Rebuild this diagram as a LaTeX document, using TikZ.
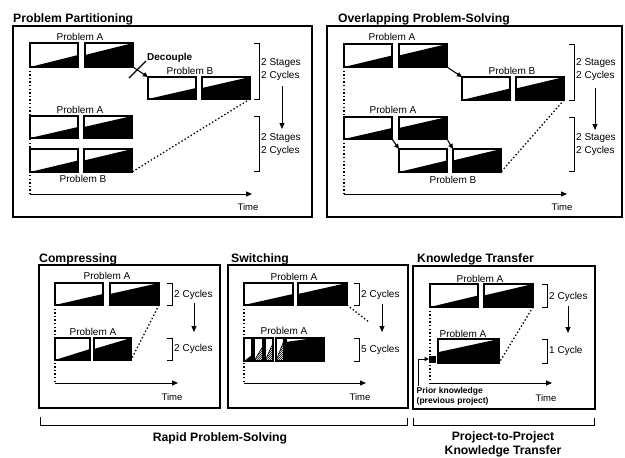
\documentclass[tikz,border=0pt]{standalone}
\usepackage{fontspec}
\setmainfont{Liberation Sans}
\usetikzlibrary{calc,arrows.meta}
\begin{document}
\begin{tikzpicture}[x=1pt,y=-1pt,
  frame/.style={draw, line width=1.2pt},
  ttl/.style={font=\fontsize{12.2}{14}\selectfont\bfseries, anchor=base west, inner sep=0pt},
  lbl/.style={font=\fontsize{10}{12}\selectfont, inner sep=0pt},
  cyc/.style={font=\fontsize{10}{13}\selectfont, align=left, anchor=west, inner sep=0pt},
  tm/.style={font=\fontsize{9.5}{11}\selectfont, inner sep=0pt},
  stage/.style={draw, line width=1.2pt, inner sep=0pt, outer sep=0pt, anchor=north west, fill=white},
  lowtri/.style={stage, path picture={\fill[black] (path picture bounding box.south west) -- (path picture bounding box.south east) -- ($(path picture bounding box.south east)!#1!(path picture bounding box.north east)$) -- cycle;}},
  hightri/.style={stage, path picture={\fill[black] (path picture bounding box.south west) -- (path picture bounding box.south east) -- (path picture bounding box.north east) -- ($(path picture bounding box.south west)!#1!(path picture bounding box.north west)$) -- cycle;}},
  hatchtri/.style={stage, path picture={
     \begin{scope}
     \clip (path picture bounding box.south west) -- (path picture bounding box.south east) -- ($(path picture bounding box.south east)!#1!(path picture bounding box.north east)$) -- cycle;
     \foreach \k in {-30,-28,...,12} {\draw[black, line width=0.45pt] ($(path picture bounding box.south west)+(\k pt,0pt)$) -- ++(32pt,32pt);}
     \end{scope}
     \draw[black, line width=0.6pt] (path picture bounding box.south west) -- ($(path picture bounding box.south east)!#1!(path picture bounding box.north east)$);}},
  sliver/.style={stage, path picture={\fill[black] (path picture bounding box.south west) -- (path picture bounding box.south east) -- (path picture bounding box.north east) -- ($(path picture bounding box.north west)!0.75!(path picture bounding box.north east)$) -- ($(path picture bounding box.north west)!0.17!(path picture bounding box.south west)$) -- cycle;}},
  dots/.style={line width=1.3pt, dash pattern=on 1.4pt off 2.2pt},
  tip/.style={-{Triangle[length=6pt,width=5pt]}},
  axis/.style={line width=1pt, tip},
  down/.style={line width=1pt, tip},
  link/.style={line width=1.1pt, -{Triangle[length=5pt,width=4.5pt]}},
  brk/.style={line width=0.6pt},
  bigbrk/.style={line width=1pt},
  pk/.style={font=\fontsize{8.5}{10}\selectfont\bfseries, align=left, anchor=north west, inner sep=0pt},
  big/.style={font=\fontsize{12.2}{13.5}\selectfont\bfseries, align=center, inner sep=0pt},
]
\fill[white] (0,0) rectangle (625,458);
\useasboundingbox (0,0) rectangle (625,458);

% ================= Problem Partitioning =================
\node[ttl] (ppTitle) at (13,22) {Problem Partitioning};
\draw[frame] (13,26) rectangle (312,217);
\node[lowtri=0.5, minimum width=48pt, minimum height=24pt] (ppA1) at (30,43) {};
\node[hightri=0.5, minimum width=48pt, minimum height=24pt] (ppA2) at (85,43) {};
\node[lbl] (ppLA) at (80,37) {Problem A};
\node[lowtri=0.5, minimum width=48pt, minimum height=22pt] (ppB1) at (148,77) {};
\node[hightri=0.5, minimum width=48pt, minimum height=22pt] (ppB2) at (202,77) {};
\node[lbl] (ppLB) at (190,71) {Problem B};
\draw[link] (ppA2.south east) -- (ppB1.north west);
\draw[line width=1.1pt] (129,78) -- (146,61);
\node[font=\fontsize{10}{12}\selectfont\bfseries, anchor=west, inner sep=0pt] (ppDec) at (147,58) {Decouple};
\draw[brk] (254,43) -- (259,43) -- (259,99) -- (254,99);
\node[cyc] (ppS1) at (261,69.5) {2 Stages\\2 Cycles};
\draw[down] (282,86) -- (282,129);
\draw[brk] (254,116) -- (259,116) -- (259,171) -- (254,171);
\node[cyc] (ppS2) at (261,145) {2 Stages\\2 Cycles};
\node[lowtri=0.5, minimum width=48pt, minimum height=22pt] (ppC1) at (30,116) {};
\node[hightri=0.5, minimum width=48pt, minimum height=22pt] (ppC2) at (84,116) {};
\node[lbl] (ppLC) at (80,110) {Problem A};
\node[lowtri=0.5, minimum width=48pt, minimum height=23pt] (ppD1) at (30,149) {};
\node[hightri=0.5, minimum width=48pt, minimum height=23pt] (ppD2) at (84,149) {};
\node[lbl] (ppLD) at (83,179) {Problem B};
\coordinate (ppO) at (30,194);
\coordinate (ppT) at (252,194);
\draw[dots] (ppA1.south west) -- (ppO);
\draw[axis] (ppO) -- (ppT);
\node[tm] (ppTime) at (248,207) {Time};
\draw[dots] (ppB2.south east) -- (ppD2.south east);

% ================= Overlapping Problem-Solving =================
\node[ttl] (osTitle) at (338,22) {Overlapping Problem-Solving};
\draw[frame] (327,26) rectangle (622,217);
\node[lowtri=0.5, minimum width=48pt, minimum height=23pt] (osA1) at (344,44) {};
\node[hightri=0.5, minimum width=48pt, minimum height=23pt] (osA2) at (399,44) {};
\node[lbl] (osLA) at (392,37) {Problem A};
\node[lowtri=0.5, minimum width=48pt, minimum height=23pt] (osB1) at (462,77) {};
\node[hightri=0.5, minimum width=48pt, minimum height=23pt] (osB2) at (516,77) {};
\node[lbl] (osLB) at (512,71) {Problem B};
\draw[link] (osA2.south east) -- (osB1.north west);
\draw[brk] (569,44) -- (574,44) -- (574,100) -- (569,100);
\node[cyc] (osS1) at (576,69.5) {2 Stages\\2 Cycles};
\draw[down] (595,88) -- (595,130);
\draw[brk] (569,117) -- (574,117) -- (574,171) -- (569,171);
\node[cyc] (osS2) at (576,145) {2 Stages\\2 Cycles};
\node[lowtri=0.5, minimum width=48pt, minimum height=22pt] (osC1) at (344,117) {};
\node[hightri=0.5, minimum width=48pt, minimum height=22pt] (osC2) at (399,117) {};
\node[lbl] (osLC) at (393,110) {Problem A};
\node[lowtri=0.5, minimum width=48pt, minimum height=23pt] (osD1) at (399,149) {};
\node[hightri=0.5, minimum width=48pt, minimum height=23pt] (osD2) at (453,149) {};
\node[lbl] (osLD) at (453,180) {Problem B};
\draw[link] (osC1.south east) -- (osD1.north west);
\draw[link] (osC2.south east) -- (osD2.north west);
\coordinate (osO) at (344,194);
\coordinate (osT) at (567,194);
\draw[dots] (osA1.south west) -- (osO);
\draw[axis] (osO) -- (osT);
\node[tm] (osTime) at (562,207) {Time};
\draw[dots] (osB2.south east) -- (osD2.south east);

% ================= Compressing =================
\node[ttl] (cmTitle) at (39,262) {Compressing};
\draw[frame] (39,265) rectangle (220,408);
\node[lowtri=0.5, minimum width=48pt, minimum height=22pt] (cmA1) at (55,283) {};
\node[hightri=0.5, minimum width=49pt, minimum height=22pt] (cmA2) at (110,283) {};
\node[lbl] (cmLA) at (107,276) {Problem A};
\draw[brk] (167,283) -- (172,283) -- (172,305) -- (167,305);
\node[cyc] (cmS1) at (174,295) {2 Cycles};
\draw[down] (194,303) -- (194,332);
\node[lowtri=0.5, minimum width=35pt, minimum height=22pt] (cmC1) at (55,338) {};
\node[hightri=0.5, minimum width=37pt, minimum height=22pt] (cmC2) at (94,338) {};
\node[lbl] (cmLC) at (93,332) {Problem A};
\draw[brk] (167,338) -- (172,338) -- (172,360) -- (167,360);
\node[cyc] (cmS2) at (174,349) {2 Cycles};
\coordinate (cmO) at (55,383);
\coordinate (cmT) at (178,383);
\draw[dots] (cmA1.south west) -- (cmO);
\draw[axis] (cmO) -- (cmT);
\node[tm] (cmTime) at (172,397) {Time};
\draw[dots] (cmA2.south east) -- (cmC2.south east);

% ================= Switching =================
\node[ttl] (swTitle) at (231,262) {Switching};
\draw[frame] (228,265) rectangle (408,408);
\node[lowtri=0.5, minimum width=49pt, minimum height=22pt] (swA1) at (244,283) {};
\node[hightri=0.5, minimum width=49pt, minimum height=22pt] (swA2) at (298,283) {};
\node[lbl] (swLA) at (294,277) {Problem A};
\draw[brk] (354,283) -- (359,283) -- (359,305) -- (354,305);
\node[cyc] (swS1) at (361,295) {2 Cycles};
\draw[down] (382,304) -- (382,332);
\coordinate (swE) at (369,322);
\draw[dots] (swA2.south east) -- (swE);
\node[lowtri=0.26, minimum width=8pt, minimum height=23pt] (sw1) at (244,338) {};
\node[hatchtri=0.65, minimum width=9pt, minimum height=23pt] (sw2) at (254,338) {};
\node[hatchtri=0.78, minimum width=8pt, minimum height=23pt] (sw3) at (265,338) {};
\node[hatchtri=0.9, minimum width=8pt, minimum height=23pt] (sw4) at (276,338) {};
\node[sliver, minimum width=38pt, minimum height=23pt] (swB) at (286,338) {};
\node[lbl] (swLB) at (284,331) {Problem A};
\draw[brk] (354,338) -- (359,338) -- (359,361) -- (354,361);
\node[cyc] (swS2) at (361,350) {5 Cycles};
\coordinate (swO) at (244,383);
\coordinate (swT) at (366,383);
\draw[dots] (swA1.south west) -- (swO);
\draw[axis] (swO) -- (swT);
\node[tm] (swTime) at (360,397) {Time};

% ================= Knowledge Transfer =================
\node[ttl] (ktTitle) at (417,262) {Knowledge Transfer};
\draw[frame] (413,266) rectangle (595,409);
\node[lowtri=0.5, minimum width=48pt, minimum height=23pt] (ktA1) at (430,284) {};
\node[hightri=0.5, minimum width=49pt, minimum height=23pt] (ktA2) at (484,284) {};
\node[lbl] (ktLA) at (480,279) {Problem A};
\draw[brk] (542,284) -- (547,284) -- (547,307) -- (542,307);
\node[cyc] (ktS1) at (549,297) {2 Cycles};
\draw[down] (568,306) -- (568,333);
\node[stage, fill=black, minimum width=6pt, minimum height=6pt, line width=0.6pt] (ktSq) at (429,356) {};
\node[hightri=0.45, minimum width=61pt, minimum height=24pt] (ktB) at (438,339) {};
\node[lbl] (ktLB) at (463,334) {Problem A};
\draw[brk] (542,339) -- (547,339) -- (547,363) -- (542,363);
\node[cyc] (ktS2) at (549,351) {1 Cycle};
\coordinate (ktO) at (430,383);
\coordinate (ktT) at (552,383);
\draw[dots] (ktA1.south west) -- (ktO);
\draw[axis] (ktO) -- (ktT);
\node[tm] (ktTime) at (546,398) {Time};
\draw[dots] (ktA2.south east) -- (ktB.south east);
\node[pk] (ktPK) at (416.5,387) {Prior knowledge\\(previous project)};
\coordinate (ktPKs) at (418,386);
\draw[line width=1pt, -{Triangle[length=4.5pt,width=4pt]}] (ktPKs) |- (ktSq.west);

% ================= bottom brackets =================
\draw[bigbrk] (40,417) -- (40,425) -- (407,425) -- (407,418);
\node[big] (rapid) at (220,438) {Rapid Problem-Solving};
\draw[bigbrk] (413,418) -- (413,425) -- (594,425) -- (594,418);
\node[big] (ptp) at (503,444.5) {Project-to-Project\\Knowledge Transfer};
\end{tikzpicture}
\end{document}
